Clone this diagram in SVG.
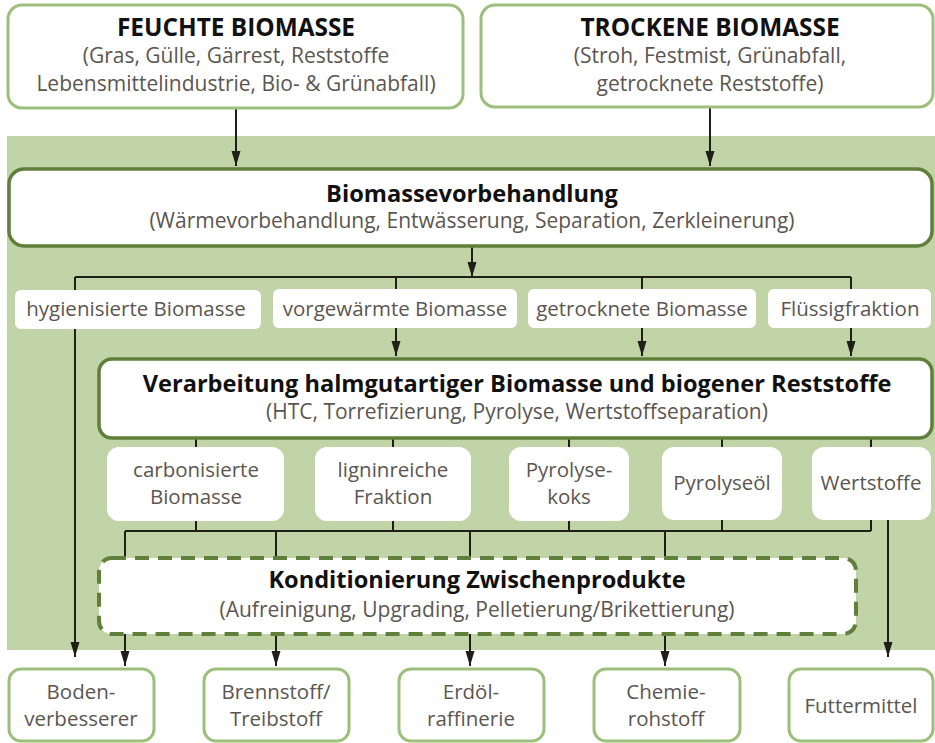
<svg xmlns="http://www.w3.org/2000/svg" width="935" height="743" viewBox="0 0 935 743">
<defs>
<marker id="ah" markerUnits="userSpaceOnUse" markerWidth="16" markerHeight="12" refX="15" refY="5" orient="auto">
<path d="M0,0.5 L15,5 L0,9.5 z" fill="#1f1f17"/>
</marker>
<style>
.bg{fill:#c0d4a7}
.src{fill:#fff;stroke:#9cbf7c;stroke-width:3}
.proc{fill:#fff;stroke:#5f7f3b;stroke-width:3.5}
.dash{fill:#fff;stroke:#5f7f3b;stroke-width:4;stroke-dasharray:14 9}
.lbl{fill:#fff}
.ln{fill:none;stroke:#1f1f17;stroke-width:2}
.ar{fill:none;stroke:#1f1f17;stroke-width:2;marker-end:url(#ah)}
text{font-family:"Open Sans","Liberation Sans",sans-serif;text-anchor:middle}
.t{font-weight:bold;fill:#111;font-size:23.6px}
.tt{font-weight:bold;fill:#111;font-size:24.4px}
.s{fill:#5b5651;font-size:21px}
.l{fill:#5b5651;font-size:20.5px}
</style>
</defs>
<rect class="bg" x="7" y="136" width="928" height="514"/>
<g id="connectors">
<path class="ar" d="M236,108 V166"/>
<path class="ar" d="M710,108 V166"/>
<path class="ar" d="M472,246 V277"/>
<path class="ln" d="M75,277 H851"/>
<path class="ln" d="M396,277 V295 M642,277 V295 M851,277 V295"/>
<path class="ar" d="M75,277 V657"/>
<path class="ar" d="M396,325 V356"/>
<path class="ar" d="M642,325 V356"/>
<path class="ar" d="M851,325 V356"/>
<path class="ln" d="M196,438 V460 M393,438 V460 M569,438 V460 M722,438 V460 M871,438 V460"/>
<path class="ln" d="M196,510 V531 M393,510 V531 M569,510 V531 M722,510 V531 M871,510 V531"/>
<path class="ln" d="M125,531 H871"/>
<path class="ln" d="M125,531 V560 M276,531 V560 M470,531 V560 M665,531 V560"/>
<path class="ar" d="M888,510 V657"/>
<path class="ar" d="M125,632 V666"/>
<path class="ar" d="M276,632 V666"/>
<path class="ar" d="M470,632 V666"/>
<path class="ar" d="M665,632 V666"/>
</g>
<g id="feuchte">
<rect class="src" x="8" y="5" width="455" height="103" rx="14"/>
<text class="tt" x="236" y="36">FEUCHTE BIOMASSE</text>
<text class="s" x="236" y="63">(Gras, Gülle, Gärrest, Reststoffe</text>
<text class="s" x="236" y="91">Lebensmittelindustrie, Bio- &amp; Grünabfall)</text>
</g>
<g id="trockene">
<rect class="src" x="481" y="5" width="452" height="102" rx="14"/>
<text class="tt" x="710" y="36">TROCKENE BIOMASSE</text>
<text class="s" x="710" y="63">(Stroh, Festmist, Grünabfall,</text>
<text class="s" x="710" y="91">getrocknete Reststoffe)</text>
</g>
<g id="vorbehandlung">
<rect class="proc" x="9" y="169" width="923" height="77" rx="15"/>
<text class="t" x="472" y="202">Biomassevorbehandlung</text>
<text class="s" x="472" y="228">(Wärmevorbehandlung, Entwässerung, Separation, Zerkleinerung)</text>
</g>
<g id="hygienisiert">
<rect class="lbl" x="15" y="290" width="246" height="39" rx="6"/>
<text class="l" x="136" y="316">hygienisierte Biomasse</text>
</g>
<g id="vorgewaermt">
<rect class="lbl" x="273" y="289" width="244" height="39" rx="6"/>
<text class="l" x="395" y="316">vorgewärmte Biomasse</text>
</g>
<g id="getrocknet">
<rect class="lbl" x="528" y="289" width="228" height="39" rx="6"/>
<text class="l" x="642" y="316">getrocknete Biomasse</text>
</g>
<g id="fluessig">
<rect class="lbl" x="768" y="289" width="163" height="39" rx="6"/>
<text class="l" x="850" y="316">Flüssigfraktion</text>
</g>
<g id="verarbeitung">
<rect class="proc" x="99" y="359" width="833" height="79" rx="13"/>
<text class="t" x="517" y="392">Verarbeitung halmgutartiger Biomasse und biogener Reststoffe</text>
<text class="s" x="517" y="419">(HTC, Torrefizierung, Pyrolyse, Wertstoffseparation)</text>
</g>
<g id="carbonisiert">
<rect class="lbl" x="107" y="447" width="177" height="74" rx="12"/>
<text class="l" x="196" y="477">carbonisierte</text>
<text class="l" x="196" y="504">Biomasse</text>
</g>
<g id="lignin">
<rect class="lbl" x="315" y="447" width="156" height="74" rx="12"/>
<text class="l" x="393" y="477">ligninreiche</text>
<text class="l" x="393" y="504">Fraktion</text>
</g>
<g id="pyrolysekoks">
<rect class="lbl" x="509" y="447" width="120" height="74" rx="12"/>
<text class="l" x="569" y="477">Pyrolyse-</text>
<text class="l" x="569" y="504">koks</text>
</g>
<g id="pyrolyseoel">
<rect class="lbl" x="662" y="447" width="120" height="73" rx="12"/>
<text class="l" x="722" y="490">Pyrolyseöl</text>
</g>
<g id="wertstoffe">
<rect class="lbl" x="812" y="447" width="119" height="73" rx="12"/>
<text class="l" x="871" y="490">Wertstoffe</text>
</g>
<g id="konditionierung">
<rect class="dash" x="99" y="558" width="757" height="76" rx="13"/>
<text class="t" x="477" y="588">Konditionierung Zwischenprodukte</text>
<text class="s" x="477" y="617">(Aufreinigung, Upgrading, Pelletierung/Brikettierung)</text>
</g>
<g id="boden">
<rect class="src" x="9" y="669" width="145" height="72" rx="12"/>
<text class="l" x="81" y="699">Boden-</text>
<text class="l" x="81" y="726">verbesserer</text>
</g>
<g id="brennstoff">
<rect class="src" x="204" y="669" width="145" height="72" rx="12"/>
<text class="l" x="276" y="699">Brennstoff/</text>
<text class="l" x="276" y="726">Treibstoff</text>
</g>
<g id="erdoel">
<rect class="src" x="399" y="669" width="145" height="72" rx="12"/>
<text class="l" x="471" y="699">Erdöl-</text>
<text class="l" x="471" y="726">raffinerie</text>
</g>
<g id="chemie">
<rect class="src" x="594" y="669" width="146" height="72" rx="12"/>
<text class="l" x="666" y="699">Chemie-</text>
<text class="l" x="666" y="726">rohstoff</text>
</g>
<g id="futtermittel">
<rect class="src" x="789" y="669" width="144" height="72" rx="12"/>
<text class="l" x="861" y="713">Futtermittel</text>
</g>
</svg>
